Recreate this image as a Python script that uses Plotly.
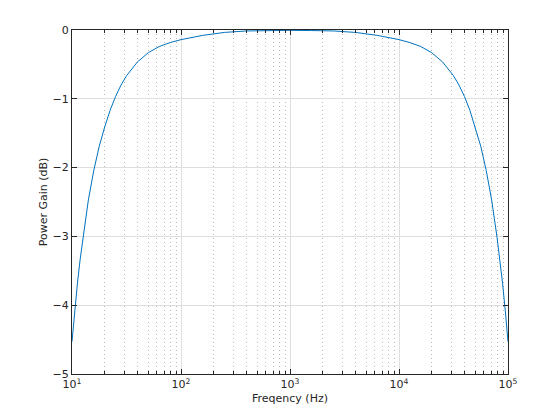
import plotly.graph_objects as go

freq_hz = [10, 10.59, 11.22, 11.89, 12.59, 14.13, 15.85, 17.78, 19.95, 22.39, 25.12,
           28.18, 31.62, 39.81, 50.12, 63.1, 79.43, 100, 158.5, 251.2, 398.1, 631,
           1000,
           1585, 2512, 3981, 6310, 10000, 12590, 15850, 19950, 25120, 31620, 35490,
           39810, 44660, 50120, 56230, 63100, 70790, 79430, 84100, 89130, 94410, 100000]
gain_db = [-4.53, -4.08, -3.68, -3.33, -3.02, -2.47, -2.04, -1.69, -1.41, -1.165, -0.965,
           -0.80, -0.665, -0.465, -0.33, -0.24, -0.183, -0.14, -0.078, -0.035, -0.014, -0.008,
           -0.005,
           -0.008, -0.014, -0.035, -0.078, -0.14, -0.183, -0.24, -0.33, -0.465, -0.665, -0.80,
           -0.965, -1.165, -1.41, -1.69, -2.04, -2.47, -3.02, -3.33, -3.68, -4.08, -4.53]

x_tick_vals = [10, 100, 1000, 10000, 100000]
x_tick_text = ["10<sup>1</sup>", "10<sup>2</sup>", "10<sup>3</sup>", "10<sup>4</sup>", "10<sup>5</sup>"]
y_tick_vals = [-5, -4, -3, -2, -1, 0]

minor_vals = [m * 10 ** e for e in range(1, 5) for m in range(2, 10)]

axis_color = "#262626"
fnt = dict(family="DejaVu Sans, Liberation Sans, sans-serif", size=10, color=axis_color)

fig = go.Figure()
fig.add_trace(go.Scatter(x=freq_hz, y=gain_db, mode="lines",
                         line=dict(color="#0072BD", width=1), showlegend=False))

fig.update_layout(
    width=560, height=420,
    margin=dict(l=64, r=60, t=22, b=54),
    paper_bgcolor="white", plot_bgcolor="white",
    font=fnt,
)
fig.update_xaxes(
    type="log", range=[1, 5],
    tickvals=x_tick_vals, ticktext=x_tick_text,
    showline=True, linecolor=axis_color, linewidth=1, mirror="ticks",
    ticks="inside", ticklen=5, tickcolor=axis_color,
    showgrid=True, gridcolor="#dedede", gridwidth=1,
    zeroline=False,
    minor=dict(tickvals=minor_vals, ticks="inside", ticklen=3, tickcolor=axis_color,
               showgrid=True, gridcolor="#b8b8b8", griddash="1px,3px", gridwidth=1),
    title=dict(text="Freqency (Hz)", standoff=4, font=dict(size=11)),
    tickfont=dict(size=11),
)
fig.update_yaxes(
    range=[-5, 0], tickvals=y_tick_vals,
    showline=True, linecolor=axis_color, linewidth=1, mirror="ticks",
    ticks="inside", ticklen=5, tickcolor=axis_color,
    showgrid=True, gridcolor="#dedede", gridwidth=1,
    zeroline=False,
    title=dict(text="Power Gain (dB)", standoff=2, font=dict(size=11)),
    tickfont=dict(size=11),
)

fig.write_html("out.html")
